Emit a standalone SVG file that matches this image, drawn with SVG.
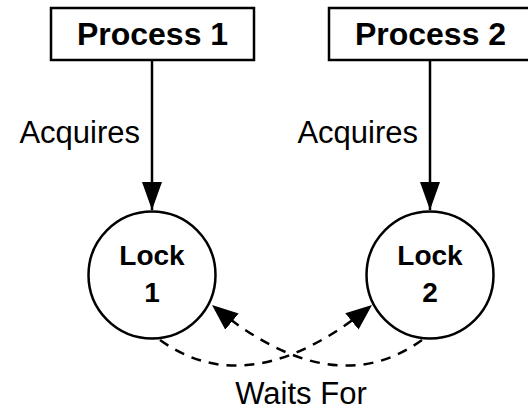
<svg xmlns="http://www.w3.org/2000/svg" width="528" height="412" viewBox="0 0 528 412">
<style>
.box{fill:#fff;stroke:#000;stroke-width:2.5}
.lock{fill:#fff;stroke:#000;stroke-width:2.5}
.t{font-family:"Liberation Sans",Arial,sans-serif;fill:#000}
.pt{font-size:32px;font-weight:bold;text-anchor:middle}
.lt{font-size:28px;font-weight:bold;text-anchor:middle}
.lbl{font-size:31px}
.solid{fill:none;stroke:#000;stroke-width:2.5}
.dash{fill:none;stroke:#000;stroke-width:2.5;stroke-dasharray:10 8}
</style>
<defs>
<marker id="ah" markerUnits="userSpaceOnUse" markerWidth="28" markerHeight="20" refX="28" refY="10" orient="auto" viewBox="0 0 28 20">
<path d="M0,0 L28,10 L0,20 z" fill="#000"/>
</marker>
<marker id="ah2" markerUnits="userSpaceOnUse" markerWidth="26" markerHeight="21" refX="26" refY="10.5" orient="auto" viewBox="0 0 26 21">
<path d="M0,0 L26,10.5 L0,21 z" fill="#000"/>
</marker>
</defs>
<g id="connectors">
<path class="solid" d="M152,60 L152,210" marker-end="url(#ah)"/>
<path class="solid" d="M430,60 L430,210" marker-end="url(#ah)"/>
<path class="dash" d="M160,340 Q250,405 372,305" marker-end="url(#ah2)"/>
<path class="dash" d="M422,340 Q332,405 212,305" marker-end="url(#ah2)"/>
<text class="t lbl" x="140" y="143" text-anchor="end">Acquires</text>
<text class="t lbl" x="418" y="143" text-anchor="end">Acquires</text>
<text class="t lbl" x="301" y="404" text-anchor="middle">Waits For</text>
</g>
<g id="process1">
<rect class="box" x="51" y="8" width="203" height="52"/>
<text class="t pt" x="152.5" y="45">Process 1</text>
</g>
<g id="process2">
<rect class="box" x="329" y="8" width="203" height="52"/>
<text class="t pt" x="430.5" y="45">Process 2</text>
</g>
<g id="lock1">
<circle class="lock" cx="152" cy="275" r="63.5"/>
<text class="t lt" x="152" y="265">Lock</text>
<text class="t lt" x="152" y="302">1</text>
</g>
<g id="lock2">
<circle class="lock" cx="430" cy="275" r="63.5"/>
<text class="t lt" x="430" y="265">Lock</text>
<text class="t lt" x="430" y="302">2</text>
</g>
</svg>
